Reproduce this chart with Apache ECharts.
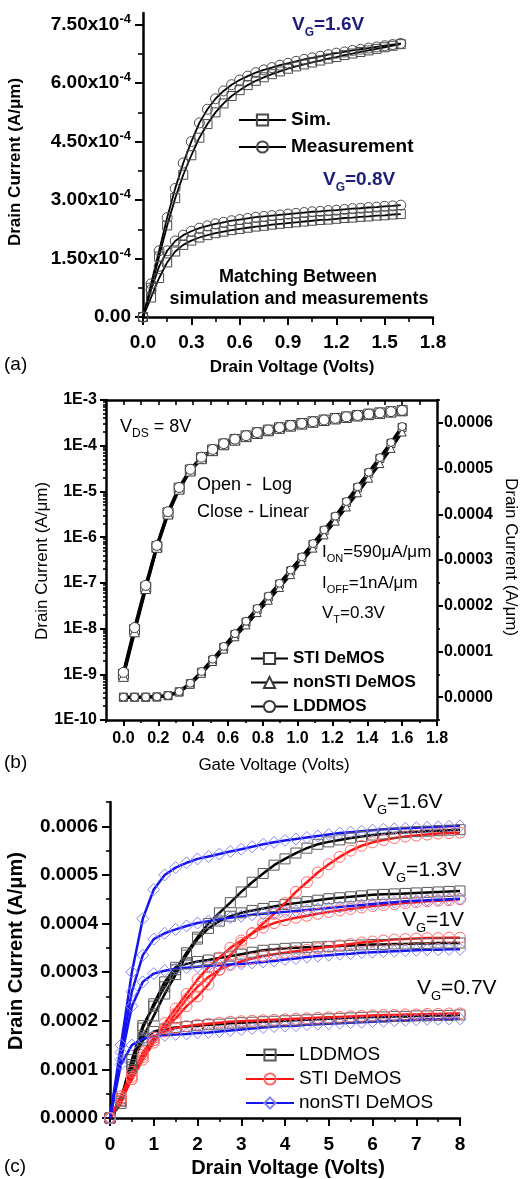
<!DOCTYPE html>
<html>
<head>
<meta charset="utf-8">
<script src="https://cdn.jsdelivr.net/npm/echarts@6/dist/echarts.min.js"></script>
<style>
  html, body { margin: 0; padding: 0; background: #fff; width: 522px; height: 1179px; overflow: hidden; }
  .panel { position: absolute; left: 0; width: 522px; }
</style>
</head>
<body>
<div id="pa" class="panel" style="top:0;height:380px"></div>
<div id="pb" class="panel" style="top:380px;height:400px"></div>
<div id="pc" class="panel" style="top:780px;height:399px"></div>
<script>
// ---------- (a) output curves, current in units of 1e-4 A/um ----------
const vdA = [0, 0.05, 0.1, 0.15, 0.2, 0.25, 0.3, 0.35, 0.4, 0.45, 0.5, 0.55, 0.6, 0.65, 0.7, 0.75, 0.8,
             0.85, 0.9, 0.95, 1.0, 1.05, 1.1, 1.15, 1.2, 1.25, 1.3, 1.35, 1.4, 1.45, 1.5, 1.55, 1.6];
const measA16 = [0, 0.85, 1.7, 2.55, 3.3, 3.95, 4.5, 4.98, 5.33, 5.6, 5.8, 5.96, 6.08, 6.18, 6.27, 6.34, 6.4,
                 6.46, 6.51, 6.56, 6.61, 6.65, 6.69, 6.73, 6.77, 6.8, 6.84, 6.87, 6.9, 6.93, 6.96, 6.99, 7.02];
const simA16  = [0, 0.75, 1.55, 2.35, 3.05, 3.65, 4.15, 4.6, 4.95, 5.25, 5.48, 5.67, 5.82, 5.95, 6.06, 6.15, 6.23,
                 6.3, 6.37, 6.43, 6.48, 6.53, 6.58, 6.63, 6.67, 6.72, 6.76, 6.8, 6.84, 6.88, 6.92, 6.96, 7.0];
const measA08 = [0, 0.7, 1.3, 1.7, 1.95, 2.1, 2.2, 2.28, 2.34, 2.39, 2.43, 2.47, 2.5, 2.53, 2.56, 2.58, 2.6,
                 2.62, 2.64, 2.66, 2.68, 2.7, 2.71, 2.73, 2.74, 2.76, 2.78, 2.79, 2.81, 2.82, 2.84, 2.85, 2.87];
const simA08  = [0, 0.5, 1.0, 1.4, 1.68, 1.85, 1.96, 2.04, 2.1, 2.15, 2.19, 2.23, 2.26, 2.29, 2.32, 2.34, 2.37,
                 2.39, 2.41, 2.43, 2.45, 2.47, 2.49, 2.5, 2.52, 2.54, 2.55, 2.57, 2.58, 2.6, 2.61, 2.63, 2.64];
const tickAx = [0, 0.3, 0.6, 0.9, 1.2, 1.5, 1.8];
const minorAx = [0.15, 0.45, 0.75, 1.05, 1.35, 1.65];
const tickAy = [0, 1.5, 3.0, 4.5, 6.0, 7.5];
const minorAy = [0.75, 2.25, 3.75, 5.25, 6.75];

// ---------- (b) transfer curves at VDS = 8 V, current in A/um ----------
const vgB = [0, 0.064, 0.128, 0.192, 0.256, 0.32, 0.384, 0.448, 0.512, 0.576, 0.64, 0.704, 0.768,
             0.832, 0.896, 0.96, 1.024, 1.088, 1.152, 1.216, 1.28, 1.344, 1.408, 1.472, 1.536, 1.6];
const stiB = [1.0e-9, 9.5e-9, 8.0e-8, 6.2e-7, 3.4e-6, 1.18e-5, 2.95e-5, 5.45e-5, 8.1e-5, 1.09e-4, 1.37e-4, 1.64e-4, 1.92e-4,
              2.19e-4, 2.47e-4, 2.76e-4, 3.05e-4, 3.34e-4, 3.64e-4, 3.94e-4, 4.26e-4, 4.58e-4, 4.9e-4, 5.22e-4, 5.55e-4, 5.9e-4];
const nonstiB = [9.0e-10, 8.5e-9, 7.5e-8, 6.0e-7, 3.2e-6, 1.12e-5, 2.8e-5, 5.2e-5, 7.8e-5, 1.05e-4, 1.32e-4, 1.58e-4, 1.85e-4,
                 2.12e-4, 2.4e-4, 2.68e-4, 2.97e-4, 3.26e-4, 3.55e-4, 3.85e-4, 4.16e-4, 4.47e-4, 4.79e-4, 5.11e-4, 5.44e-4, 5.8e-4];
const lddB = [1.1e-9, 1.05e-8, 8.8e-8, 6.6e-7, 3.6e-6, 1.22e-5, 3.05e-5, 5.6e-5, 8.3e-5, 1.11e-4, 1.39e-4, 1.66e-4, 1.94e-4,
              2.21e-4, 2.49e-4, 2.78e-4, 3.07e-4, 3.36e-4, 3.66e-4, 3.96e-4, 4.28e-4, 4.6e-4, 4.92e-4, 5.24e-4, 5.57e-4, 5.92e-4];
const tickBx = [0, 0.2, 0.4, 0.6, 0.8, 1.0, 1.2, 1.4, 1.6, 1.8];
const minorBx = [-0.1, 0.1, 0.3, 0.5, 0.7, 0.9, 1.1, 1.3, 1.5, 1.7];
const topBx = [-0.1, 0, 0.1, 0.2, 0.3, 0.4, 0.5, 0.6, 0.7, 0.8, 0.9, 1.0, 1.1, 1.2, 1.3, 1.4, 1.5, 1.6, 1.7];
const tickBr = [0, 0.0001, 0.0002, 0.0003, 0.0004, 0.0005, 0.0006];
const minorBr = [-0.00005, 0.00005, 0.00015, 0.00025, 0.00035, 0.00045, 0.00055, 0.00065];

// ---------- (c) output curves of three devices, current in units of 1e-4 A/um ----------
const vdC = [0, 0.25, 0.5, 0.75, 1, 1.25, 1.5, 1.75, 2, 2.25, 2.5, 2.75, 3, 3.25, 3.5, 3.75, 4,
             4.25, 4.5, 4.75, 5, 5.25, 5.5, 5.75, 6, 6.25, 6.5, 6.75, 7, 7.25, 7.5, 7.75, 8];
const ldC16 = [0, 0.4, 1.2, 1.9, 2.3, 2.7, 3.05, 3.4, 3.72, 4.0, 4.22, 4.43, 4.65, 4.85, 5.03, 5.2, 5.33,
               5.45, 5.55, 5.63, 5.68, 5.72, 5.76, 5.79, 5.82, 5.84, 5.86, 5.88, 5.89, 5.9, 5.91, 5.92, 5.93];
const ldC13 = [0, 0.35, 1.05, 1.65, 2.1, 2.55, 2.95, 3.35, 3.68, 3.9, 4.05, 4.15, 4.22, 4.27, 4.31, 4.35, 4.39,
               4.42, 4.45, 4.48, 4.51, 4.53, 4.55, 4.57, 4.59, 4.6, 4.61, 4.62, 4.63, 4.64, 4.65, 4.66, 4.67];
const ldC10 = [0, 0.3, 1.0, 1.85, 2.35, 2.8, 3.1, 3.17, 3.22, 3.25, 3.29, 3.33, 3.37, 3.41, 3.45, 3.47, 3.49,
               3.5, 3.51, 3.52, 3.53, 3.54, 3.55, 3.56, 3.57, 3.57, 3.58, 3.58, 3.59, 3.59, 3.6, 3.6, 3.6];
const ldC07 = [0, 0.35, 1.1, 1.6, 1.78, 1.83, 1.86, 1.88, 1.9, 1.92, 1.93, 1.95, 1.96, 1.97, 1.98, 1.99, 2.0,
               2.01, 2.02, 2.03, 2.04, 2.05, 2.06, 2.07, 2.08, 2.08, 2.09, 2.09, 2.1, 2.1, 2.11, 2.11, 2.12];
const stC16 = [0, 0.45, 0.95, 1.3, 1.6, 1.85, 2.05, 2.3, 2.5, 2.75, 3.05, 3.35, 3.6, 3.8, 4.0, 4.2, 4.42,
               4.65, 4.85, 5.05, 5.22, 5.37, 5.5, 5.6, 5.67, 5.72, 5.76, 5.79, 5.81, 5.83, 5.85, 5.86, 5.87];
const stC13 = [0, 0.4, 0.85, 1.25, 1.6, 1.95, 2.25, 2.55, 2.85, 3.1, 3.3, 3.5, 3.65, 3.8, 3.92, 4.01, 4.07,
               4.12, 4.16, 4.2, 4.24, 4.27, 4.3, 4.33, 4.36, 4.38, 4.4, 4.42, 4.44, 4.46, 4.47, 4.48, 4.5];
const stC10 = [0, 0.35, 0.8, 1.2, 1.55, 1.85, 2.15, 2.45, 2.7, 2.9, 3.05, 3.15, 3.22, 3.28, 3.33, 3.37, 3.4,
               3.43, 3.46, 3.49, 3.52, 3.55, 3.58, 3.61, 3.63, 3.65, 3.67, 3.68, 3.69, 3.7, 3.7, 3.71, 3.71];
const stC07 = [0, 0.4, 0.8, 1.35, 1.65, 1.78, 1.85, 1.89, 1.92, 1.94, 1.96, 1.98, 1.99, 2.0, 2.01, 2.02, 2.03,
               2.04, 2.05, 2.06, 2.07, 2.08, 2.09, 2.1, 2.11, 2.12, 2.12, 2.13, 2.13, 2.14, 2.14, 2.15, 2.15];
const nsC16 = [0, 1.5, 3.0, 4.1, 4.7, 5.0, 5.15, 5.25, 5.33, 5.38, 5.43, 5.48, 5.53, 5.58, 5.63, 5.67, 5.71,
               5.74, 5.77, 5.8, 5.83, 5.86, 5.88, 5.9, 5.92, 5.94, 5.95, 5.96, 5.97, 5.98, 5.99, 6.0, 6.01];
const nsC13 = [0, 1.35, 2.6, 3.35, 3.68, 3.8, 3.88, 3.95, 4.01, 4.05, 4.09, 4.12, 4.15, 4.18, 4.2, 4.22, 4.24,
               4.26, 4.28, 4.3, 4.32, 4.34, 4.36, 4.38, 4.4, 4.42, 4.44, 4.46, 4.47, 4.48, 4.49, 4.5, 4.51];
const nsC10 = [0, 1.2, 2.3, 2.8, 2.97, 3.03, 3.07, 3.09, 3.11, 3.13, 3.14, 3.16, 3.17, 3.19, 3.21, 3.23, 3.26,
               3.28, 3.31, 3.33, 3.35, 3.37, 3.38, 3.4, 3.41, 3.42, 3.43, 3.44, 3.45, 3.46, 3.46, 3.47, 3.47];
const nsC07 = [0, 1.1, 1.5, 1.63, 1.68, 1.7, 1.72, 1.73, 1.75, 1.76, 1.78, 1.8, 1.82, 1.84, 1.86, 1.88, 1.89,
               1.9, 1.92, 1.93, 1.94, 1.95, 1.96, 1.97, 1.98, 1.99, 2.0, 2.01, 2.02, 2.03, 2.03, 2.04, 2.04];
const tickCx = [0, 1, 2, 3, 4, 5, 6, 7, 8];
const minorCx = [0.5, 1.5, 2.5, 3.5, 4.5, 5.5, 6.5, 7.5];
const tickCy = [0, 1, 2, 3, 4, 5, 6];
const minorCy = [0.5, 1.5, 2.5, 3.5, 4.5, 5.5, 6.5];

// ---------- shared helpers ----------
const FONT = 'Arial, "Liberation Sans", Helvetica, sans-serif';
const zip = (xs, ys) => xs.map((x, i) => [x, ys[i]]);

function axisBase(type, extra) {
  return Object.assign({
    type: type,
    splitLine: { show: false },
    axisLine: { show: true, onZero: false, lineStyle: { color: '#000', width: 2.5 } },
    axisTick: { show: true, inside: false, length: 7, lineStyle: { color: '#000', width: 2 } },
    axisLabel: { show: true, color: '#000', fontFamily: FONT }
  }, extra);
}
// tick-only overlay axis for minor ticks
function minorAxis(type, min, max, pos, values, len, inside) {
  return {
    type: type, min: min, max: max, position: pos,
    splitLine: { show: false },
    axisLine: { show: false, onZero: false },
    axisLabel: { show: false },
    axisTick: { show: true, inside: !!inside, length: len, customValues: values, lineStyle: { color: '#000', width: 1.6 } }
  };
}
// free text with optional {n|..}{s|..} subscript tokens
function txt(x, y, text, o) {
  const size = o.size, w = o.weight || 'normal', fill = o.color || '#000';
  const sub = Math.round(size * 0.64);
  return {
    type: 'text', x: x, y: y, rotation: o.rot || 0, z: 100, silent: true,
    style: {
      text: text, align: o.align || 'left', verticalAlign: 'middle',
      fontSize: size, fontWeight: w, fontFamily: FONT, fill: fill,
      rich: {
        n: { fontSize: size, fontWeight: w, fontFamily: FONT, fill: fill, lineHeight: Math.round(size * 1.4) },
        s: { fontSize: sub, fontWeight: w, fontFamily: FONT, fill: fill, verticalAlign: 'bottom', lineHeight: sub }
      }
    }
  };
}
function openMarker(symbol, size, border) {
  return { symbol: symbol, symbolSize: size, itemStyle: { color: 'rgba(255,255,255,0)', borderColor: border, borderWidth: 1 } };
}

// ---------- (a) ----------
const NAVY = '#1e1e7c';
function seriesA(name, ys, symbol) {
  return Object.assign({
    type: 'line', name: name, data: zip(vdA, ys), showAllSymbol: true,
    lineStyle: { color: '#000', width: 1.8 }, z: 3
  }, openMarker(symbol, symbol === 'rect' ? 9 : 10, '#4a4a4a'));
}
const chartA = echarts.init(document.getElementById('pa'), null, { renderer: 'canvas' });
chartA.setOption({
  animation: false,
  grid: { left: 143, top: 13, width: 290, height: 304 },
  xAxis: [
    axisBase('value', { min: 0, max: 1.8, position: 'bottom',
      axisTick: { show: true, length: 8, customValues: tickAx, lineStyle: { color: '#000', width: 2 } },
      axisLabel: { customValues: tickAx, formatter: v => v.toFixed(1), margin: 16, color: '#000',
                   fontFamily: FONT, fontSize: 19, fontWeight: 'bold' } }),
    minorAxis('value', 0, 1.8, 'bottom', minorAx, 5)
  ],
  yAxis: [
    axisBase('value', { min: 0, max: 7.8, position: 'left',
      axisTick: { show: true, length: 8, customValues: tickAy, lineStyle: { color: '#000', width: 2 } },
      axisLabel: { customValues: tickAy, margin: 12, color: '#000',
        formatter: v => v === 0 ? '{m|0.00}' : '{m|' + v.toFixed(2) + 'x10}{s|-4}',
        rich: {
          m: { fontFamily: FONT, fontSize: 19, fontWeight: 'bold', color: '#000', lineHeight: 24 },
          s: { fontFamily: FONT, fontSize: 13, fontWeight: 'bold', color: '#000', verticalAlign: 'top', lineHeight: 13 }
        } } }),
    minorAxis('value', 0, 7.8, 'left', minorAy, 5)
  ],
  legend: {
    left: 233, top: 105, orient: 'vertical', itemWidth: 47, itemHeight: 14, itemGap: 7, selectedMode: false,
    data: ['Sim.', 'Measurement'],
    textStyle: { fontFamily: FONT, fontSize: 19, fontWeight: 'bold', color: '#000', lineHeight: 20 }
  },
  series: [
    seriesA('Sim.', simA16, 'rect'),
    seriesA('Measurement', measA16, 'circle'),
    seriesA('Sim.', simA08, 'rect'),
    seriesA('Measurement', measA08, 'circle')
  ],
  graphic: [
    txt(292, 25, '{n|V}{s|G}{n|=1.6V}', { size: 19, weight: 'bold', color: NAVY }),
    txt(323, 180, '{n|V}{s|G}{n|=0.8V}', { size: 19, weight: 'bold', color: NAVY }),
    txt(298, 277, 'Matching Between', { size: 18, weight: 'bold', align: 'center' }),
    txt(299, 299, 'simulation and measurements', { size: 18, weight: 'bold', align: 'center' }),
    txt(292, 367, 'Drain Voltage (Volts)', { size: 17, weight: 'bold', align: 'center' }),
    txt(15, 162, 'Drain Current (A/\u03bcm)', { size: 17, weight: 'bold', align: 'center', rot: Math.PI / 2 }),
    txt(4, 365, '(a)', { size: 19 })
  ]
});

// ---------- (b) ----------
function seriesB(name, ys, symbol, yIdx, size) {
  return Object.assign({
    type: 'line', name: name, data: zip(vgB, ys), showAllSymbol: true,
    xAxisIndex: 0, yAxisIndex: yIdx,
    lineStyle: { color: '#000', width: 3 }, z: 3
  }, { symbol: symbol, symbolSize: size,
       itemStyle: { color: '#fff', borderColor: '#3a3a3a', borderWidth: 1 } });
}
// minor tick positions of the log axis, expressed as decade exponents
const logMinorB = [];
for (let e = -10; e < -3; e++) for (let k = 2; k <= 9; k++) logMinorB.push(e + Math.log10(k));

const chartB = echarts.init(document.getElementById('pb'), null, { renderer: 'canvas' });
chartB.setOption({
  animation: false,
  grid: { left: 106, top: 20, width: 331, height: 320 },
  xAxis: [
    axisBase('value', { min: -0.1, max: 1.8, position: 'bottom',
      axisTick: { show: true, length: 6, customValues: tickBx, lineStyle: { color: '#000', width: 2 } },
      axisLabel: { customValues: tickBx, formatter: v => v.toFixed(1), margin: 11, color: '#000',
                   fontFamily: FONT, fontSize: 16, fontWeight: 'bold' } }),
    minorAxis('value', -0.1, 1.8, 'bottom', minorBx, 3),
    Object.assign(minorAxis('value', -0.1, 1.8, 'top', topBx, 5, true),
      { axisLine: { show: true, onZero: false, lineStyle: { color: '#000', width: 2.5 } } })
  ],
  yAxis: [
    axisBase('log', { logBase: 10, min: 1e-10, max: 1e-3, splitNumber: 7, position: 'left',
      axisTick: { show: true, length: 6, lineStyle: { color: '#000', width: 2 } },
      axisLabel: { formatter: v => '1E' + Math.round(Math.log10(v)), margin: 9, color: '#000',
                   fontFamily: FONT, fontSize: 16, fontWeight: 'bold' } }),
    minorAxis('value', -10, -3, 'left', logMinorB, 3),
    axisBase('value', { min: -0.00005, max: 0.00065, position: 'right',
      axisTick: { show: true, length: 6, customValues: tickBr, lineStyle: { color: '#000', width: 2 } },
      axisLabel: { customValues: tickBr, formatter: v => v.toFixed(4), margin: 7, color: '#000',
                   fontFamily: FONT, fontSize: 16, fontWeight: 'bold' } }),
    minorAxis('value', -0.00005, 0.00065, 'right', minorBr, 3)
  ],
  legend: {
    left: 245, top: 264, orient: 'vertical', itemWidth: 37, itemHeight: 14, itemGap: 5, selectedMode: false,
    data: ['STI DeMOS', 'nonSTI DeMOS', 'LDDMOS'],
    textStyle: { fontFamily: FONT, fontSize: 17, fontWeight: 'bold', color: '#000', lineHeight: 19 }
  },
  series: [
    seriesB('STI DeMOS', stiB, 'rect', 0, 10),
    seriesB('nonSTI DeMOS', nonstiB, 'triangle', 0, 10),
    seriesB('LDDMOS', lddB, 'circle', 0, 10),
    seriesB('STI DeMOS', stiB, 'rect', 2, 8),
    seriesB('nonSTI DeMOS', nonstiB, 'triangle', 2, 8),
    seriesB('LDDMOS', lddB, 'circle', 2, 8)
  ],
  graphic: [
    txt(120, 47, '{n|V}{s|DS}{n| = 8V}', { size: 18 }),
    txt(197, 105, 'Open -  Log', { size: 18 }),
    txt(197, 132, 'Close - Linear', { size: 18 }),
    txt(322, 172, '{n|I}{s|ON}{n|=590\u03bcA/\u03bcm}', { size: 17 }),
    txt(322, 203, '{n|I}{s|OFF}{n|=1nA/\u03bcm}', { size: 17 }),
    txt(322, 233, '{n|V}{s|T}{n|=0.3V}', { size: 17 }),
    txt(274, 385, 'Gate Voltage (Volts)', { size: 17, align: 'center' }),
    txt(42, 181, 'Drain Current (A/\u03bcm)', { size: 17, align: 'center', rot: Math.PI / 2 }),
    txt(511, 177, 'Drain Current (A/\u03bcm)', { size: 17, align: 'center', rot: -Math.PI / 2 }),
    txt(4, 383, '(b)', { size: 19 })
  ]
});

// ---------- (c) ----------
const DEV = {
  'LDDMOS':       { line: '#000000', mark: '#5a5a5a', symbol: 'rect', size: 10 },
  'STI DeMOS':    { line: '#ff1414', mark: '#ff6a6a', symbol: 'circle', size: 11 },
  'nonSTI DeMOS': { line: '#1414f0', mark: '#8484f4', symbol: 'diamond', size: 12 }
};
function seriesC(name, ys) {
  const d = DEV[name];
  return Object.assign({
    type: 'line', name: name, data: zip(vdC, ys), showAllSymbol: true,
    lineStyle: { color: d.line, width: 2.5 }, z: 3
  }, openMarker(d.symbol, d.size, d.mark));
}
const chartC = echarts.init(document.getElementById('pc'), null, { renderer: 'canvas' });
chartC.setOption({
  animation: false,
  grid: { left: 110, top: 22, width: 350, height: 316 },
  xAxis: [
    axisBase('value', { min: 0, max: 8, position: 'bottom',
      axisTick: { show: true, length: 8, customValues: tickCx, lineStyle: { color: '#000', width: 2 } },
      axisLabel: { customValues: tickCx, formatter: v => String(v), margin: 17, color: '#000',
                   fontFamily: FONT, fontSize: 19, fontWeight: 'bold' } }),
    minorAxis('value', 0, 8, 'bottom', minorCx, 4)
  ],
  yAxis: [
    axisBase('value', { min: 0, max: 6.5, position: 'left',
      axisTick: { show: true, length: 8, customValues: tickCy, lineStyle: { color: '#000', width: 2 } },
      axisLabel: { customValues: tickCy, formatter: v => (v * 1e-4).toFixed(4), margin: 12, color: '#000',
                   fontFamily: FONT, fontSize: 19, fontWeight: 'bold' } }),
    minorAxis('value', 0, 6.5, 'left', minorCy, 4)
  ],
  legend: {
    left: 240, top: 260, orient: 'vertical', itemWidth: 48, itemHeight: 14, itemGap: 4, selectedMode: false,
    data: ['LDDMOS', 'STI DeMOS', 'nonSTI DeMOS'],
    textStyle: { fontFamily: FONT, fontSize: 19, color: '#000', lineHeight: 20 }
  },
  series: [
    seriesC('LDDMOS', ldC16), seriesC('LDDMOS', ldC13), seriesC('LDDMOS', ldC10), seriesC('LDDMOS', ldC07),
    seriesC('STI DeMOS', stC16), seriesC('STI DeMOS', stC13), seriesC('STI DeMOS', stC10), seriesC('STI DeMOS', stC07),
    seriesC('nonSTI DeMOS', nsC16), seriesC('nonSTI DeMOS', nsC13), seriesC('nonSTI DeMOS', nsC10), seriesC('nonSTI DeMOS', nsC07)
  ],
  graphic: [
    txt(363, 22, '{n|V}{s|G}{n|=1.6V}', { size: 21 }),
    txt(382, 90, '{n|V}{s|G}{n|=1.3V}', { size: 21 }),
    txt(402, 140, '{n|V}{s|G}{n|=1V}', { size: 21 }),
    txt(417, 208, '{n|V}{s|G}{n|=0.7V}', { size: 21 }),
    txt(288, 388, 'Drain Voltage (Volts)', { size: 20, weight: 'bold', align: 'center' }),
    txt(16, 171, 'Drain Current (A/\u03bcm)', { size: 20, weight: 'bold', align: 'center', rot: Math.PI / 2 }),
    txt(4, 387, '(c)', { size: 19 })
  ]
});
</script>
</body>
</html>
